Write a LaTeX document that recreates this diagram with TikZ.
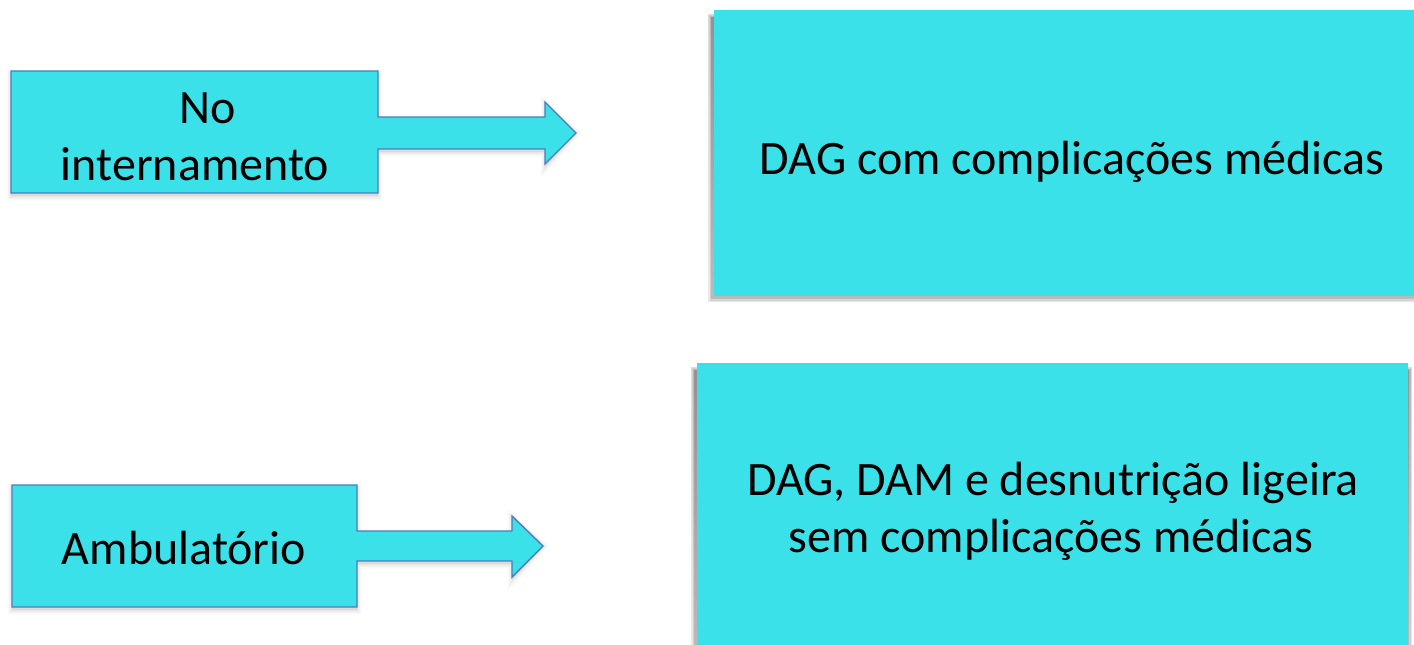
\documentclass[tikz,border=0pt]{standalone}
\usepackage{fontspec}
\setmainfont{Carlito}
\definecolor{boxfill}{RGB}{58,225,233}
\definecolor{boxline}{RGB}{74,126,187}
\definecolor{shade}{RGB}{150,150,150}
\tikzset{
  calloutA/.style={insert path={(11,71) -- (378,71) -- (378,117) -- (545,117) -- (545,102)
      -- (tipA) -- (545,164) -- (545,149) -- (378,149) -- (378,193) -- (11,193) -- cycle}},
  calloutB/.style={insert path={(12,485) -- (357,485) -- (357,531) -- (512,531) -- (512,516)
      -- (tipB) -- (512,577) -- (512,561) -- (357,561) -- (357,607) -- (12,607) -- cycle}},
  softshadow/.style={draw=shade, fill=shade, line join=miter},
  callout/.style={draw=boxline, fill=boxfill, line width=1.4pt, line join=miter},
  plainbox/.style={fill=boxfill},
  label/.style={font=\fontsize{48}{57.6}\selectfont, text=black, inner sep=0pt},
}
\begin{document}
\begin{tikzpicture}[x=1pt,y=-1pt]
  \useasboundingbox (0,0) rectangle (1414,645);
  \coordinate (tipA) at (576,133);
  \coordinate (tipB) at (543,546);

  % soft shadows under the two callouts
  \begin{scope}[shift={(0,3)}]
    \foreach \w/\o in {9/0.05,6/0.07,3/0.10}{
      \draw[softshadow, line width=\w pt, opacity=\o, calloutA];
      \draw[softshadow, line width=\w pt, opacity=\o, calloutB];
    }
  \end{scope}

  % callouts with their arrows
  \draw[callout, calloutA];
  \draw[callout, calloutB];

  % shadows of the right-hand boxes
  \foreach \d/\o in {0/0.10,1.5/0.12,3/0.18}{
    \fill[shade, opacity=\o] (708+\d,14+\d) rectangle (1420,302-\d);
    \fill[shade, opacity=\o] (691+\d,367+\d) rectangle (1412-\d,650);
  }

  % right-hand boxes
  \node[plainbox, minimum width=710pt, minimum height=286pt, inner sep=0pt, anchor=north west] (comp) at (714,10) {};
  \node[plainbox, minimum width=711pt, minimum height=290pt, inner sep=0pt, anchor=north west] (semcomp) at (697,363) {};

  % texts
  \node[label, anchor=base] (no) at (208,123) {No};
  \node[label, anchor=base] (intern) at (195,180) {internamento};
  \node[label, anchor=base] (amb) at (184,564) {Ambulatório};
  \node[label, anchor=base] (dag) at (1072,174) {DAG com complicações médicas};
  \node[label, anchor=base] (dam) at (1053,495) {DAG, DAM e desnutrição ligeira};
  \node[label, anchor=base] (sem) at (1051,552) {sem complicações médicas};
\end{tikzpicture}
\end{document}
